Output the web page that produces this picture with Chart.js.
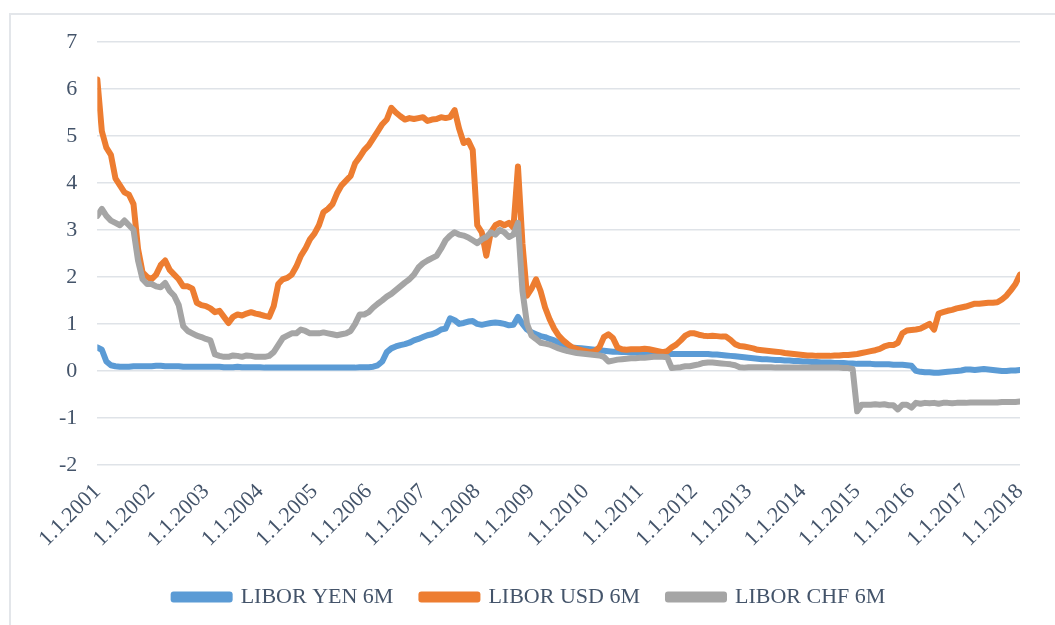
<!DOCTYPE html>
<html>
<head>
<meta charset="utf-8">
<title>LIBOR 6M</title>
<script src="https://cdn.jsdelivr.net/npm/chart.js@4.4.1/dist/chart.umd.min.js"></script>
<style>
    html, body {
        margin: 0;
        padding: 0;
        background: #ffffff;
    }
    #wrap {
        position: relative;
        width: 1055px;
        height: 625px;
    }
    /* chart area frame: only the top and left edges are visible */
    #frame {
        position: absolute;
        left: 9px;
        top: 13px;
        width: 1060px;
        height: 640px;
        border-left: 2px solid #e3e6ea;
        border-top: 2px solid #e3e6ea;
        box-sizing: border-box;
    }
    canvas {
        position: absolute;
        left: 0;
        top: 0;
    }
</style>
</head>
<body>
<div id="wrap">
    <div id="frame"></div>
    <canvas id="chart" width="1055" height="625"></canvas>
</div>
<script>
// Monthly fixings, Jan 2001 .. Jan 2018 (one value per month)
const startYear = 2001;
const endYear = 2018;

const yen6m = [
    0.50, 0.45, 0.20, 0.12, 0.10, 0.09, 0.09, 0.09, 0.10, 0.10, 0.10, 0.10,
    0.10, 0.11, 0.11, 0.10, 0.10, 0.10, 0.10, 0.09, 0.09, 0.09, 0.09, 0.09,
    0.09, 0.09, 0.09, 0.09, 0.08, 0.08, 0.08, 0.09, 0.08, 0.08, 0.08, 0.08,
    0.08, 0.07, 0.07, 0.07, 0.07, 0.07, 0.07, 0.07, 0.07, 0.07, 0.07, 0.07,
    0.07, 0.07, 0.07, 0.07, 0.07, 0.07, 0.07, 0.07, 0.07, 0.07, 0.08, 0.08,
    0.08, 0.09, 0.12, 0.20, 0.40, 0.48, 0.52, 0.55, 0.57, 0.60, 0.65, 0.68,
    0.72, 0.76, 0.78, 0.82, 0.88, 0.90, 1.12, 1.08, 1.00, 1.02, 1.05, 1.06,
    1.00, 0.98, 1.00, 1.02, 1.03, 1.02, 1.00, 0.97, 0.98, 1.15, 1.00, 0.88,
    0.82, 0.78, 0.74, 0.72, 0.68, 0.65, 0.60, 0.56, 0.52, 0.50, 0.49, 0.48,
    0.47, 0.46, 0.45, 0.44, 0.43, 0.42, 0.41, 0.41, 0.40, 0.40, 0.39, 0.39,
    0.38, 0.38, 0.37, 0.37, 0.37, 0.36, 0.36, 0.36, 0.36, 0.36, 0.36, 0.36,
    0.36, 0.36, 0.36, 0.36, 0.35, 0.35, 0.34, 0.33, 0.32, 0.31, 0.30, 0.29,
    0.28, 0.27, 0.26, 0.25, 0.25, 0.24, 0.23, 0.23, 0.22, 0.22, 0.21, 0.21,
    0.20, 0.20, 0.19, 0.19, 0.18, 0.18, 0.18, 0.17, 0.17, 0.17, 0.16, 0.16,
    0.15, 0.15, 0.15, 0.15, 0.14, 0.14, 0.14, 0.14, 0.13, 0.13, 0.13, 0.12,
    0.11, 0.00, -0.02, -0.03, -0.03, -0.04, -0.04, -0.03, -0.02, -0.01, 0.00, 0.01,
    0.03, 0.03, 0.02, 0.03, 0.04, 0.03, 0.02, 0.01, 0.00, 0.00, 0.01, 0.01,
    0.02
];

const usd6m = [
    6.20, 5.10, 4.75, 4.60, 4.10, 3.95, 3.80, 3.75, 3.55, 2.60, 2.10, 2.00,
    1.95, 2.05, 2.25, 2.35, 2.15, 2.05, 1.95, 1.80, 1.80, 1.75, 1.45, 1.40,
    1.38, 1.33, 1.25, 1.28, 1.15, 1.02, 1.15, 1.20, 1.18, 1.22, 1.25, 1.22,
    1.20, 1.17, 1.15, 1.38, 1.85, 1.95, 1.98, 2.05, 2.22, 2.45, 2.60, 2.80,
    2.92, 3.10, 3.38, 3.45, 3.55, 3.78, 3.95, 4.05, 4.15, 4.42, 4.55, 4.70,
    4.80, 4.95, 5.10, 5.25, 5.35, 5.60, 5.50, 5.42, 5.35, 5.38, 5.36, 5.38,
    5.40, 5.32, 5.35, 5.36, 5.40, 5.38, 5.40, 5.55, 5.15, 4.85, 4.90, 4.70,
    3.10, 2.95, 2.45, 2.95, 3.10, 3.15, 3.10, 3.15, 3.05, 4.35, 2.70, 1.60,
    1.75, 1.95, 1.70, 1.35, 1.10, 0.90, 0.75, 0.65, 0.57, 0.50, 0.47, 0.44,
    0.42, 0.40, 0.42, 0.50, 0.72, 0.78, 0.70, 0.50, 0.46, 0.45, 0.46, 0.46,
    0.46, 0.47, 0.46, 0.44, 0.42, 0.40, 0.42, 0.50, 0.56, 0.65, 0.75, 0.80,
    0.80, 0.77, 0.75, 0.74, 0.75, 0.74, 0.73, 0.73, 0.66, 0.57, 0.53, 0.52,
    0.50, 0.48, 0.45, 0.44, 0.43, 0.42, 0.41, 0.40, 0.38, 0.37, 0.36, 0.35,
    0.34, 0.33, 0.33, 0.32, 0.32, 0.32, 0.32, 0.33, 0.33, 0.34, 0.34, 0.35,
    0.36, 0.38, 0.40, 0.42, 0.44, 0.47, 0.52, 0.55, 0.55, 0.60, 0.80, 0.86,
    0.87, 0.88, 0.90, 0.95, 1.00, 0.88, 1.22, 1.25, 1.28, 1.30, 1.33, 1.35,
    1.37, 1.40, 1.43, 1.43, 1.44, 1.45, 1.45, 1.46, 1.52, 1.60, 1.72, 1.85,
    2.05
];

const chf6m = [
    3.30, 3.45, 3.30, 3.20, 3.15, 3.10, 3.20, 3.10, 3.00, 2.35, 1.95, 1.85,
    1.85, 1.80, 1.78, 1.87, 1.70, 1.60, 1.40, 0.95, 0.85, 0.80, 0.75, 0.72,
    0.68, 0.65, 0.35, 0.32, 0.30, 0.30, 0.33, 0.32, 0.30, 0.33, 0.32, 0.30,
    0.30, 0.30, 0.32, 0.40, 0.55, 0.70, 0.75, 0.80, 0.80, 0.88, 0.85, 0.80,
    0.80, 0.80, 0.82, 0.80, 0.78, 0.76, 0.78, 0.80, 0.85, 1.00, 1.20, 1.20,
    1.25, 1.35, 1.43, 1.50, 1.58, 1.64, 1.72, 1.80, 1.88, 1.95, 2.05, 2.20,
    2.29, 2.35, 2.40, 2.45, 2.60, 2.78, 2.88, 2.95, 2.90, 2.88, 2.84, 2.78,
    2.72, 2.80, 2.85, 2.95, 2.90, 3.00, 2.95, 2.85, 2.90, 3.15, 1.70, 1.00,
    0.75, 0.68, 0.60, 0.58, 0.56, 0.52, 0.48, 0.45, 0.42, 0.40, 0.38, 0.37,
    0.36, 0.35, 0.34, 0.33, 0.30, 0.20, 0.22, 0.24, 0.25, 0.26, 0.27, 0.27,
    0.28, 0.28, 0.29, 0.30, 0.30, 0.30, 0.29, 0.06, 0.07, 0.08, 0.10, 0.10,
    0.12, 0.14, 0.17, 0.18, 0.18, 0.17, 0.16, 0.15, 0.14, 0.12, 0.08, 0.07,
    0.08, 0.08, 0.08, 0.08, 0.08, 0.08, 0.07, 0.07, 0.07, 0.07, 0.07, 0.07,
    0.07, 0.07, 0.07, 0.07, 0.07, 0.07, 0.07, 0.07, 0.07, 0.06, 0.06, 0.04,
    -0.86, -0.72, -0.72, -0.72, -0.71, -0.72, -0.71, -0.73, -0.73, -0.82, -0.72, -0.72,
    -0.78, -0.68, -0.70, -0.68, -0.69, -0.68, -0.70, -0.68, -0.68, -0.69, -0.68, -0.68,
    -0.68, -0.67, -0.67, -0.67, -0.67, -0.67, -0.67, -0.67, -0.66, -0.66, -0.66, -0.66,
    -0.65
];

const seriesNames = ['LIBOR YEN 6M', 'LIBOR USD 6M', 'LIBOR CHF 6M'];
const seriesColors = ['#5b9bd5', '#ed7d31', '#a5a5a5'];
const yTicks = [7, 6, 5, 4, 3, 2, 1, 0, -1, -2];

const textColor = '#44546a';
const gridColor = '#dfe3e8';
const fontFamily = "'Liberation Serif', 'Times New Roman', serif";

// month index -> fractional year on the x scale
function toPoints(values) {
    return values.map((v, i) => ({ x: startYear + i / 12, y: v }));
}

function makeDataset(idx, values) {
    return {
        label: seriesNames[idx],
        data: toPoints(values),
        borderColor: seriesColors[idx],
        backgroundColor: seriesColors[idx],
        borderWidth: 6,
        pointRadius: 0,
        tension: 0,
        borderJoinStyle: 'round',
        borderCapStyle: 'round',
        // later series sit on top of earlier ones
        order: 3 - idx
    };
}

const ctx = document.getElementById('chart').getContext('2d');

new Chart(ctx, {
    type: 'line',
    data: {
        datasets: [
            makeDataset(0, yen6m),
            makeDataset(1, usd6m),
            makeDataset(2, chf6m)
        ]
    },
    options: {
        responsive: false,
        animation: false,
        layout: {
            padding: { left: 39, right: 35, top: 42, bottom: 7 }
        },
        scales: {
            x: {
                type: 'linear',
                min: startYear,
                max: endYear,
                grid: { display: false },
                border: { display: false },
                ticks: {
                    stepSize: 1,
                    minRotation: 45,
                    maxRotation: 45,
                    padding: 6,
                    color: textColor,
                    font: { family: fontFamily, size: 22 },
                    callback: (v) => '1.1.' + v
                }
            },
            y: {
                min: yTicks[yTicks.length - 1],
                max: yTicks[0],
                afterBuildTicks: (scale) => {
                    scale.ticks = yTicks.map(v => ({ value: v }));
                },
                grid: {
                    color: gridColor,
                    lineWidth: 1.5,
                    drawTicks: false
                },
                border: { display: false },
                ticks: {
                    padding: 20,
                    color: textColor,
                    font: { family: fontFamily, size: 22 }
                }
            }
        },
        plugins: {
            legend: {
                position: 'bottom',
                labels: {
                    boxWidth: 56,
                    boxHeight: 5,
                    padding: 28,
                    color: textColor,
                    font: { family: fontFamily, size: 22 },
                    sort: (a, b) => a.datasetIndex - b.datasetIndex
                }
            },
            tooltip: { enabled: false }
        }
    }
});
</script>
</body>
</html>
